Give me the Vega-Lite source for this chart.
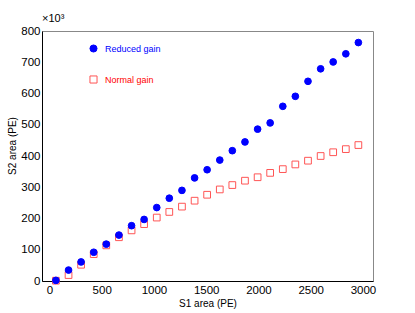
{
  "$schema": "https://vega.github.io/schema/vega-lite/v6.json",
  "width": 331,
  "height": 250,
  "autosize": "none",
  "padding": {"left": 42, "top": 31, "right": 42, "bottom": 32},
  "background": "white",
  "config": {
    "view": {"stroke": "#888888", "strokeWidth": 1},
    "font": "Liberation Sans",
    "axis": {
      "grid": false,
      "labelFont": "Liberation Sans",
      "titleFont": "Liberation Sans",
      "labelColor": "#000000",
      "titleColor": "#000000",
      "domainColor": "#000000",
      "tickColor": "#000000",
      "titleFontWeight": "normal",
      "labelFontSize": 11.5,
      "titleFontSize": 10
    },
    "legend": {
      "orient": "none", "legendX": 47, "legendY": 13, "title": null,
      "labelFontSize": 9, "labelFont": "Liberation Sans", "rowPadding": 18, "padding": 0,
      "labelOffset": 7, "symbolSize": 50, "symbolStrokeWidth": 1,
      "labelColor": {"expr": "datum.value === 'Reduced gain' ? '#0000ff' : '#ff0000'"}
    }
  },
  "title": {"text": "×10³", "anchor": "start", "frame": "group", "fontSize": 11, "fontWeight": "normal", "font": "Liberation Sans", "offset": 1, "color": "#000000"},
  "data": {
    "values": [
      {"s1": 62, "s2": 1, "series": "Normal gain"},
      {"s1": 183, "s2": 19, "series": "Normal gain"},
      {"s1": 303, "s2": 52, "series": "Normal gain"},
      {"s1": 424, "s2": 86, "series": "Normal gain"},
      {"s1": 544, "s2": 114, "series": "Normal gain"},
      {"s1": 665, "s2": 140, "series": "Normal gain"},
      {"s1": 786, "s2": 162, "series": "Normal gain"},
      {"s1": 906, "s2": 182, "series": "Normal gain"},
      {"s1": 1027, "s2": 203, "series": "Normal gain"},
      {"s1": 1147, "s2": 221, "series": "Normal gain"},
      {"s1": 1268, "s2": 238, "series": "Normal gain"},
      {"s1": 1389, "s2": 257, "series": "Normal gain"},
      {"s1": 1509, "s2": 276, "series": "Normal gain"},
      {"s1": 1630, "s2": 293, "series": "Normal gain"},
      {"s1": 1750, "s2": 307, "series": "Normal gain"},
      {"s1": 1871, "s2": 321, "series": "Normal gain"},
      {"s1": 1992, "s2": 332, "series": "Normal gain"},
      {"s1": 2112, "s2": 346, "series": "Normal gain"},
      {"s1": 2233, "s2": 358, "series": "Normal gain"},
      {"s1": 2353, "s2": 373, "series": "Normal gain"},
      {"s1": 2474, "s2": 385, "series": "Normal gain"},
      {"s1": 2595, "s2": 400, "series": "Normal gain"},
      {"s1": 2715, "s2": 412, "series": "Normal gain"},
      {"s1": 2836, "s2": 422, "series": "Normal gain"},
      {"s1": 2956, "s2": 435, "series": "Normal gain"},
      {"s1": 62, "s2": 2, "series": "Reduced gain"},
      {"s1": 183, "s2": 35, "series": "Reduced gain"},
      {"s1": 303, "s2": 61, "series": "Reduced gain"},
      {"s1": 424, "s2": 92, "series": "Reduced gain"},
      {"s1": 544, "s2": 118, "series": "Reduced gain"},
      {"s1": 665, "s2": 147, "series": "Reduced gain"},
      {"s1": 786, "s2": 177, "series": "Reduced gain"},
      {"s1": 906, "s2": 197, "series": "Reduced gain"},
      {"s1": 1027, "s2": 235, "series": "Reduced gain"},
      {"s1": 1147, "s2": 265, "series": "Reduced gain"},
      {"s1": 1268, "s2": 290, "series": "Reduced gain"},
      {"s1": 1389, "s2": 330, "series": "Reduced gain"},
      {"s1": 1509, "s2": 356, "series": "Reduced gain"},
      {"s1": 1630, "s2": 387, "series": "Reduced gain"},
      {"s1": 1750, "s2": 417, "series": "Reduced gain"},
      {"s1": 1871, "s2": 445, "series": "Reduced gain"},
      {"s1": 1992, "s2": 486, "series": "Reduced gain"},
      {"s1": 2112, "s2": 506, "series": "Reduced gain"},
      {"s1": 2233, "s2": 559, "series": "Reduced gain"},
      {"s1": 2353, "s2": 591, "series": "Reduced gain"},
      {"s1": 2474, "s2": 639, "series": "Reduced gain"},
      {"s1": 2595, "s2": 679, "series": "Reduced gain"},
      {"s1": 2715, "s2": 701, "series": "Reduced gain"},
      {"s1": 2836, "s2": 727, "series": "Reduced gain"},
      {"s1": 2956, "s2": 763, "series": "Reduced gain"}
    ]
  },
  "layer": [
    {
      "transform": [{"filter": "datum.series === 'Normal gain'"}],
      "mark": {"type": "point", "strokeWidth": 1, "size": 45, "opacity": 1, "fillOpacity": 1, "strokeOpacity": 1},
      "encoding": {
        "x": {
          "field": "s1", "type": "quantitative",
          "scale": {"domain": [-71, 3096], "nice": false, "zero": false},
          "axis": {"orient": "bottom", "values": [0,100,200,300,400,500,600,700,800,900,1000,1100,1200,1300,1400,1500,1600,1700,1800,1900,2000,2100,2200,2300,2400,2500,2600,2700,2800,2900,3000], "labels": false, "domain": false, "tickSize": 0, "title": null,
            "encode": {"ticks": {"update": {"y": {"value": 0}, "y2": {"value": -4}}}}}
        },
        "y": {
          "field": "s2", "type": "quantitative",
          "scale": {"domain": [0, 800], "nice": false},
          "axis": {"orient": "left", "values": [0,20,40,60,80,100,120,140,160,180,200,220,240,260,280,300,320,340,360,380,400,420,440,460,480,500,520,540,560,580,600,620,640,660,680,700,720,740,760,780,800], "labels": false, "domain": false, "tickSize": 0, "title": null,
            "encode": {"ticks": {"update": {"x": {"value": 0}, "x2": {"value": 4}}}}}
        },
        "shape": {"field": "series", "type": "nominal", "scale": {"domain": ["Reduced gain", "Normal gain"], "range": ["circle", "square"]}},
        "fill": {"field": "series", "type": "nominal", "scale": {"domain": ["Reduced gain", "Normal gain"], "range": ["#0000ff", "transparent"]}},
        "stroke": {"field": "series", "type": "nominal", "scale": {"domain": ["Reduced gain", "Normal gain"], "range": ["#0000ff", "#ff5555"]}}
      }
    },
    {
      "transform": [{"filter": "datum.series === 'Reduced gain'"}],
      "mark": {"type": "point", "strokeWidth": 1, "size": 45, "opacity": 1, "fillOpacity": 1, "strokeOpacity": 1},
      "encoding": {
        "x": {
          "field": "s1", "type": "quantitative",
          "scale": {"domain": [-71, 3096], "nice": false, "zero": false},
          "axis": {"orient": "bottom", "values": [0,500,1000,1500,2000,2500,3000], "format": "d", "tickSize": 0, "labelPadding": 3, "title": "S1 area (PE)", "titleY": 22, "titleBaseline": "middle",
            "encode": {"ticks": {"update": {"y": {"value": 0}, "y2": {"value": -7}}}}}
        },
        "y": {
          "field": "s2", "type": "quantitative",
          "scale": {"domain": [0, 800], "nice": false},
          "axis": {"orient": "left", "values": [0,100,200,300,400,500,600,700,800], "format": "d", "tickSize": 0, "labelPadding": 2, "title": "S2 area (PE)", "titleX": -30, "titleY": 114.5, "titleAlign": "center", "titleBaseline": "middle", "titleAngle": 270,
            "encode": {"ticks": {"update": {"x": {"value": 0}, "x2": {"value": 8}}}}}
        },
        "shape": {"field": "series", "type": "nominal", "scale": {"domain": ["Reduced gain", "Normal gain"], "range": ["circle", "square"]}},
        "fill": {"field": "series", "type": "nominal", "scale": {"domain": ["Reduced gain", "Normal gain"], "range": ["#0000ff", "transparent"]}},
        "stroke": {"field": "series", "type": "nominal", "scale": {"domain": ["Reduced gain", "Normal gain"], "range": ["#0000ff", "#ff5555"]}}
      }
    }
  ],
  "resolve": {"axis": {"x": "independent", "y": "independent"}}
}
